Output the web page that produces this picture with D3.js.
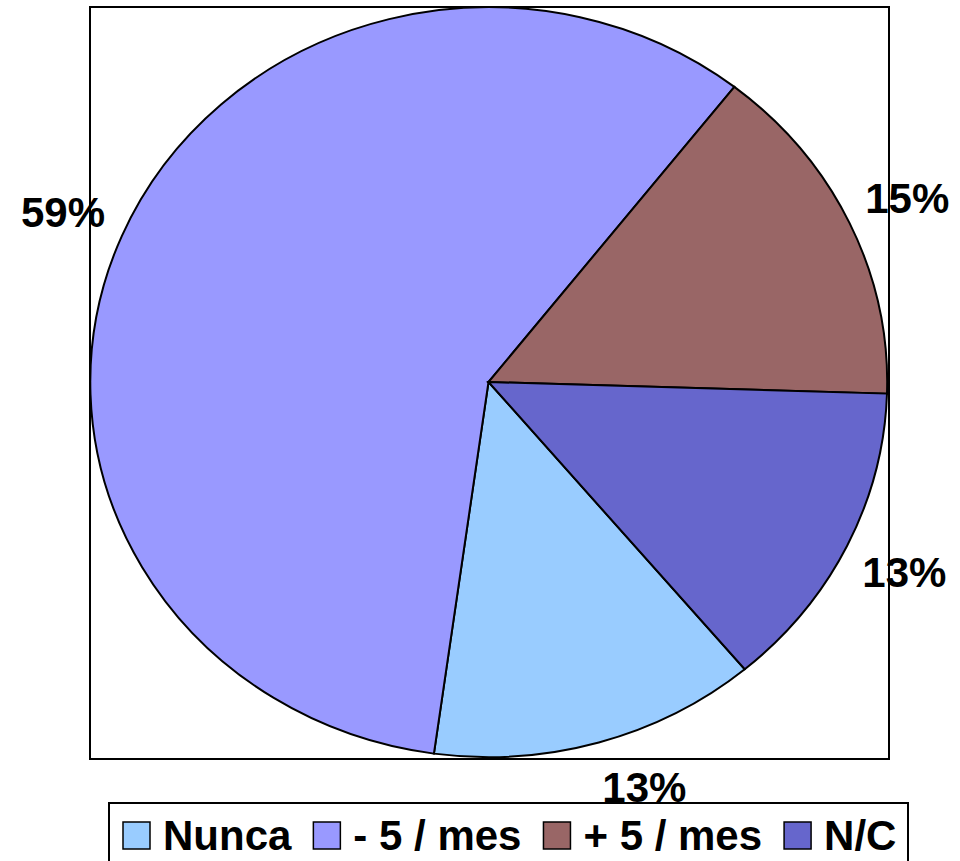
<!DOCTYPE html>
<html>
<head>
<meta charset="utf-8">
<script src="https://cdn.jsdelivr.net/npm/d3@7"></script>
<style>
  body { margin: 0; background: #fff; }
  svg text { font-family: "Liberation Sans", Arial, sans-serif; font-weight: bold; fill: #000; }
</style>
</head>
<body>
<svg id="chart" width="960" height="861"></svg>
<script>
// data (shares)
var categories = ["Nunca", "- 5 / mes", "+ 5 / mes", "N/C"];
var values = [13.3, 58.4, 14.9, 13.4];
var labels = ["13%", "59%", "15%", "13%"];
var colors = ["#99CCFF", "#9999FF", "#996666", "#6666CC"];

var svg = d3.select("#chart");

// plot area box
var box = {x: 90, y: 7, w: 799, h: 752};
svg.append("rect")
    .attr("x", box.x).attr("y", box.y)
    .attr("width", box.w).attr("height", box.h)
    .attr("fill", "#fff").attr("stroke", "#000").attr("stroke-width", 2);

var cx = 488.5, cy = 382, rx = 398.5, ry = 375;
var startAngle = 140 * Math.PI / 180;

var pie = d3.pie().sort(null).value(function(d){ return d; })
    .startAngle(startAngle).endAngle(startAngle + 2 * Math.PI);
var arcs = pie(values);

// draw on a unit circle, then stretch to the ellipse
var arc = d3.arc().innerRadius(0).outerRadius(1);
var g = svg.append("g")
    .attr("transform", "translate(" + cx + "," + cy + ") scale(" + rx + "," + ry + ")");
g.selectAll("path")
    .data(arcs)
    .enter().append("path")
    .attr("d", arc)
    .attr("fill", function(d, i){ return colors[i]; })
    .attr("stroke", "#000")
    .attr("stroke-width", 2)
    .attr("vector-effect", "non-scaling-stroke");

// percentage labels outside the pie
// (excel pushes the bottom one a bit to the right / up)
var labelArc = d3.arc().innerRadius(1.16).outerRadius(1.16);
var nudge = {"Nunca": [28, -13]};
svg.selectAll("text.pct")
    .data(arcs)
    .enter().append("text")
    .attr("class", "pct")
    .attr("x", function(d, i){
        var n = nudge[categories[i]] || [0, 0];
        return cx + labelArc.centroid(d)[0] * rx + n[0];
    })
    .attr("y", function(d, i){
        var n = nudge[categories[i]] || [0, 0];
        return cy + labelArc.centroid(d)[1] * ry + n[1];
    })
    .attr("dy", "0.36em")
    .attr("text-anchor", "middle")
    .style("font-size", "42px")
    .text(function(d, i){ return labels[i]; });

// redraw box edges on top of labels
svg.append("rect")
    .attr("x", box.x).attr("y", box.y)
    .attr("width", box.w).attr("height", box.h)
    .attr("fill", "none").attr("stroke", "#000").attr("stroke-width", 2);

// legend
var legend = svg.append("g");
legend.append("rect")
    .attr("x", 109).attr("y", 803)
    .attr("width", 799).attr("height", 90)
    .attr("fill", "#fff").attr("stroke", "#000").attr("stroke-width", 2);

var lx = 123;
categories.forEach(function(c, i){
    legend.append("rect")
        .attr("x", lx).attr("y", 822)
        .attr("width", 27).attr("height", 27)
        .attr("fill", colors[i]).attr("stroke", "#000").attr("stroke-width", 1.5);
    var t = legend.append("text")
        .attr("x", lx + 40).attr("y", 850)
        .style("font-size", "42px")
        .text(c);
    lx += 40 + t.node().getComputedTextLength() + 22;
});
</script>
</body>
</html>
